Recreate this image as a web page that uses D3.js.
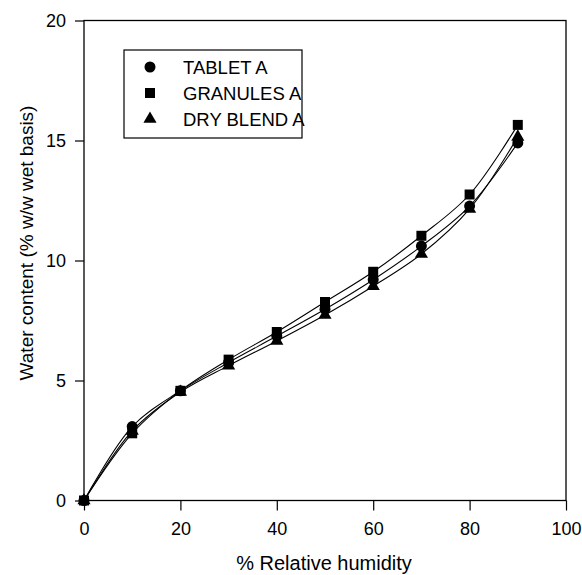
<!DOCTYPE html>
<html>
<head>
<meta charset="utf-8">
<script src="https://cdn.jsdelivr.net/npm/d3@7"></script>
<style>
  body { margin: 0; background: #fff; }
  text { font-family: "Liberation Sans", Arial, sans-serif; fill: #000; }
</style>
</head>
<body>
<svg width="582" height="575"></svg>
<script>
const humidity = [0, 10, 20, 30, 40, 50, 60, 70, 80, 90];
const tabletA = [0, 3.08, 4.57, 5.75, 6.85, 7.97, 9.2, 10.6, 12.27, 14.9];
const granulesA = [0, 2.8, 4.57, 5.87, 7.02, 8.27, 9.53, 11.03, 12.75, 15.65];
const dryBlendA = [0, 2.9, 4.52, 5.62, 6.65, 7.73, 8.93, 10.27, 12.15, 15.15];
const xTicks = [0, 20, 40, 60, 80, 100];
const yTicks = [0, 5, 10, 15, 20];
const seriesNames = ["TABLET A", "GRANULES A", "DRY BLEND A"];

const svg = d3.select("svg");
const x = d3.scaleLinear().domain([0, 100]).range([84, 566]);
const y = d3.scaleLinear().domain([0, 20]).range([500.5, 20.5]);

const series = [
  { name: seriesNames[0], values: tabletA, sym: d3.symbolCircle, size: 95 },
  { name: seriesNames[1], values: granulesA, sym: d3.symbolSquare, size: 100 },
  { name: seriesNames[2], values: dryBlendA, sym: d3.symbolTriangle, size: 75 }
];

// frame
svg.append("rect")
  .attr("x", x(0)).attr("y", y(20))
  .attr("width", x(100) - x(0)).attr("height", y(0) - y(20))
  .attr("fill", "none").attr("stroke", "#000").attr("stroke-width", 1.3);

const xAxis = svg.append("g")
  .attr("transform", `translate(0,${y(0)})`)
  .call(d3.axisBottom(x).tickValues(xTicks).tickSize(10).tickPadding(12));
const yAxis = svg.append("g")
  .attr("transform", `translate(${x(0)},0)`)
  .call(d3.axisLeft(y).tickValues(yTicks).tickSize(9).tickPadding(9));
[xAxis, yAxis].forEach(a => {
  a.select(".domain").remove();
  a.selectAll("line").attr("stroke", "#000").attr("stroke-width", 1.2);
  a.selectAll("text").style("font-size", "18px").style("font-family", "Liberation Sans, Arial, sans-serif");
});

const line = d3.line()
  .x((d, i) => x(humidity[i]))
  .y(d => y(d))
  .curve(d3.curveCatmullRom.alpha(0.5));

series.forEach(s => {
  svg.append("path")
    .datum(s.values)
    .attr("d", line)
    .attr("fill", "none")
    .attr("stroke", "#000")
    .attr("stroke-width", 1.1);
});

series.forEach(s => {
  svg.append("g").selectAll("path")
    .data(s.values)
    .join("path")
    .attr("transform", (d, i) => `translate(${x(humidity[i])},${y(d)})`)
    .attr("d", d3.symbol().type(s.sym).size(s.size))
    .attr("fill", "#000");
});

// legend
const lg = svg.append("g").attr("transform", "translate(124,50)");
lg.append("rect").attr("width", 178).attr("height", 88)
  .attr("fill", "#fff").attr("stroke", "#000").attr("stroke-width", 1.2);
series.forEach((s, i) => {
  const yy = 17 + i * 26;
  lg.append("path")
    .attr("transform", `translate(26,${yy})`)
    .attr("d", d3.symbol().type(s.sym).size(s.size))
    .attr("fill", "#000");
  lg.append("text").attr("x", 59).attr("y", yy + 7)
    .style("font-size", "18.5px").text(s.name);
});

// axis titles
svg.append("text")
  .attr("x", 324).attr("y", 570)
  .attr("text-anchor", "middle")
  .style("font-size", "20px")
  .text("% Relative humidity");
svg.append("text")
  .attr("transform", "translate(33,243) rotate(-90)")
  .attr("text-anchor", "middle")
  .style("font-size", "19px")
  .text("Water content (% w/w wet basis)");
</script>
</body>
</html>
